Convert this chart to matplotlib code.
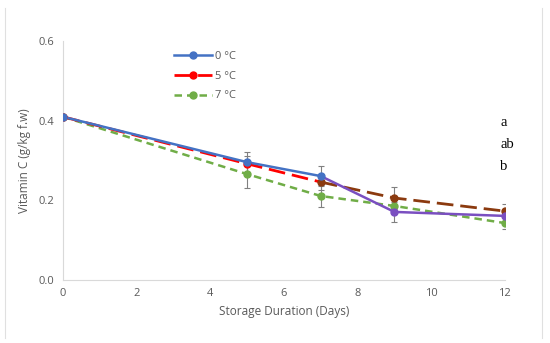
import matplotlib
matplotlib.use("Agg")
import matplotlib.pyplot as plt
from matplotlib.lines import Line2D

plt.rcParams['font.family'] = ['Open Sans', 'DejaVu Sans']

# data
days = [0, 5, 7, 9, 12]
vc_0 = [0.41, 0.296, 0.261, 0.171, 0.161]
vc_5 = [0.41, 0.292, 0.246, 0.206, 0.173]
vc_7 = [0.41, 0.266, 0.211, 0.186, 0.143]
err_0 = [0, 0.025, 0.025, 0.025, 0.015]
err_5 = [0, 0.02, 0.02, 0.028, 0.018]
err_7 = [0, 0.035, 0.028, 0.02, 0.015]
labels = ['0 °C', '5 °C', '7 °C']
letters = ['a', 'ab', 'b']

blue = '#4472C4'
purple = '#7A4FC0'
red = '#FF0000'
brown = '#8B3A0F'
green = '#70AD47'
grey = '#595959'

fig = plt.figure(figsize=(5.5, 3.43), dpi=100)
ax = fig.add_axes([0.1145, 0.1837, 0.8035, 0.6963])

# error bars (grey, capped)
for vals, err in [(vc_0, err_0), (vc_5, err_5), (vc_7, err_7)]:
    ax.errorbar(days, vals, yerr=err, fmt='none', ecolor='#808080',
                elinewidth=0.8, capsize=2.5, capthick=0.8, zorder=1)

# 7 °C
ax.plot(days, vc_7, color=green, ls=(0, (3, 2)), lw=1.8, marker='o',
        ms=5, zorder=2)
# 5 °C (red, turning brown after day 5)
ax.plot(days[:3], vc_5[:3], color=red, ls=(0, (6, 2.5)), lw=2, zorder=3)
ax.plot(days[2:], vc_5[2:], color=brown, ls=(0, (6, 2.5)), lw=2, zorder=3)
ax.plot(days[:2], vc_5[:2], 'o', color=red, ms=5, zorder=4)
ax.plot(days[2:], vc_5[2:], 'o', color=brown, ms=5, zorder=4)
# 0 °C (blue, turning purple after day 7)
ax.plot(days[:3], vc_0[:3], color=blue, lw=1.8, zorder=3)
ax.plot(days[2:], vc_0[2:], color=purple, lw=1.8, zorder=3)
ax.plot(days[:3], vc_0[:3], 'o', color=blue, ms=5, zorder=4)
ax.plot(days[3:], vc_0[3:], 'o', color=purple, ms=5, zorder=4)

ax.set_xlim(0, 12)
ax.set_ylim(0, 0.6)
ax.set_xticks(range(0, 13, 2))
ax.set_yticks([0, 0.2, 0.4, 0.6])
ax.set_yticklabels(['0.0', '0.2', '0.4', '0.6'])
ax.tick_params(length=0, labelsize=8, colors=grey, pad=6)
for s in ['top', 'right']:
    ax.spines[s].set_visible(False)
for s in ['left', 'bottom']:
    ax.spines[s].set_color('#D9D9D9')
    ax.spines[s].set_linewidth(0.8)

ax.set_xlabel('Storage Duration (Days)', fontsize=8.5, color=grey, labelpad=4)
ax.set_ylabel('Vitamin C (g/kg f.w)', fontsize=8.5, color=grey, labelpad=6)

handles = [
    Line2D([], [], color=blue, lw=1.8, marker='o', ms=5),
    Line2D([], [], color=red, lw=2, ls=(0, (6, 2.5)), marker='o', ms=5),
    Line2D([], [], color=green, lw=1.8, ls=(0, (3, 2)), marker='o', ms=5),
]
leg = ax.legend(handles, labels, loc='upper left', bbox_to_anchor=(0.228, 1.0),
                frameon=False, fontsize=8, handlelength=3.4,
                labelspacing=0.78, handletextpad=0.35)
for t in leg.get_texts():
    t.set_color(grey)

for i, lt in enumerate(letters):
    ax.text(11.88, 0.395 - i * 0.055, lt, family='Liberation Serif',
            fontsize=10.5, color='black', ha='left', va='center')

# faint side edges of the chart area
for xf in (5 / 550, 542 / 550):
    fig.add_artist(Line2D([xf, xf], [5 / 343, 335 / 343], transform=fig.transFigure,
                          color='#E0E0E0', lw=0.8))

fig.savefig('out.png', dpi=100)
